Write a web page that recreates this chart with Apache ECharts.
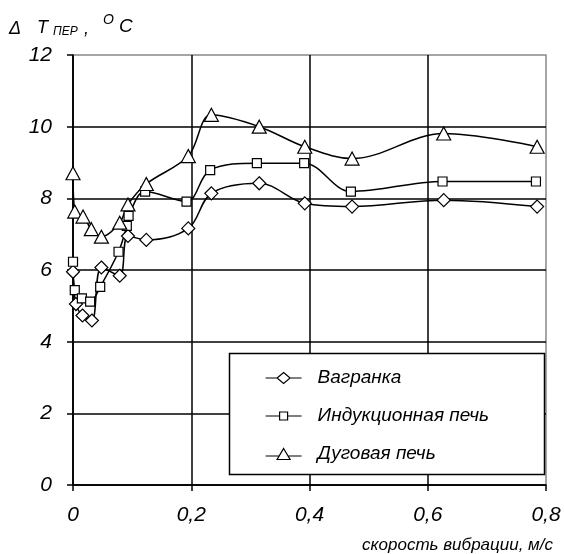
<!DOCTYPE html>
<html>
<head>
<meta charset="utf-8">
<script src="https://cdn.jsdelivr.net/npm/echarts@6/dist/echarts.min.js"></script>
<style>
html,body{margin:0;padding:0;background:#fff;}
#chart{width:564px;height:554px;}
</style>
</head>
<body>
<div id="chart"></div>
<script>
// ---- data ----
const seriesNames = ['Вагранка', 'Индукционная печь', 'Дуговая печь'];

const xVagranka = [0, 0.005, 0.016, 0.032, 0.048, 0.079, 0.093, 0.124, 0.195, 0.234, 0.315, 0.392, 0.472, 0.627, 0.785];
const yVagranka = [5.95, 5.05, 4.73, 4.59, 6.07, 5.84, 6.95, 6.84, 7.16, 8.14, 8.42, 7.86, 7.77, 7.95, 7.77];

const xInduction = [0, 0.003, 0.015, 0.029, 0.046, 0.077, 0.091, 0.094, 0.122, 0.192, 0.232, 0.311, 0.391, 0.470, 0.625, 0.783];
const yInduction = [6.23, 5.44, 5.21, 5.12, 5.53, 6.51, 7.23, 7.51, 8.19, 7.91, 8.79, 8.98, 8.98, 8.19, 8.47, 8.47];

const xArc = [0, 0.003, 0.017, 0.031, 0.048, 0.079, 0.093, 0.124, 0.195, 0.234, 0.315, 0.392, 0.472, 0.627, 0.785];
const yArc = [8.70, 7.63, 7.49, 7.14, 6.93, 7.32, 7.83, 8.40, 9.18, 10.33, 10.0, 9.44, 9.11, 9.81, 9.44];

const xTicks = [0, 0.2, 0.4, 0.6, 0.8];
const yTicks = [0, 2, 4, 6, 8, 10, 12];

const xAxisTitle = 'скорость вибрации, м/с';

// ---- chart ----
const FONT = '"Liberation Sans", Arial, sans-serif';
const zip = (xs, ys) => xs.map((x, i) => [x, ys[i]]);

// legend icons: short line + marker, drawn as one path
const legendIcons = [
  'path://M0,6L11.5,6M24.5,6L36,6M18,0.5L24.5,6L18,11.5L11.5,6Z',
  'path://M0,6L14,6M22,6L36,6M14,2L22,2L22,10L14,10Z',
  'path://M0,8L13.6,8M22.4,8L36,8M18,0.5L24.5,11.5L11.5,11.5Z'
];

const baseSeries = (name, xs, ys, symbol, size) => ({
  type: 'line',
  name: name,
  data: zip(xs, ys),
  smooth: 0.35,
  symbol: symbol,
  symbolSize: size,
  showAllSymbol: true,
  itemStyle: { color: '#fff', borderColor: '#000', borderWidth: 1.2 },
  lineStyle: { color: '#000', width: 1.5 },
  emphasis: { disabled: true },
  animation: false
});

const chart = echarts.init(document.getElementById('chart'), null, { renderer: 'canvas' });

chart.setOption({
  animation: false,
  backgroundColor: '#fff',
  grid: {
    left: 73, right: 18, top: 55, bottom: 69,
    show: true, borderColor: '#888', borderWidth: 1.5, backgroundColor: 'transparent'
  },
  xAxis: {
    type: 'value',
    min: xTicks[0], max: xTicks[xTicks.length - 1], interval: 0.2,
    axisLine: { show: true, lineStyle: { color: '#000', width: 1.5 } },
    axisTick: { show: true, inside: false, length: 6, lineStyle: { color: '#000', width: 1.5 } },
    axisLabel: {
      margin: 20, fontSize: 21, fontStyle: 'italic', fontFamily: FONT, color: '#000',
      formatter: v => String(Math.round(v * 10) / 10).replace('.', ',')
    },
    splitLine: { show: true, showMaxLine: false, lineStyle: { color: '#000', width: 1.5 } }
  },
  yAxis: {
    type: 'value',
    min: yTicks[0], max: yTicks[yTicks.length - 1], interval: 2,
    axisLine: { show: true, lineStyle: { color: '#000', width: 1.5 } },
    axisTick: { show: true, inside: false, length: 6, lineStyle: { color: '#000', width: 1.5 } },
    axisLabel: {
      margin: 21, fontSize: 21, fontStyle: 'italic', fontFamily: FONT, color: '#000'
    },
    splitLine: { show: true, showMaxLine: false, lineStyle: { color: '#000', width: 1.5 } }
  },
  legend: {
    orient: 'vertical',
    left: 260, top: 363,
    itemWidth: 36, itemHeight: 14, itemGap: 18,
    symbolKeepAspect: true,
    z: 10,
    selectedMode: false,
    itemStyle: { color: '#fff', borderColor: '#000', borderWidth: 1.2 },
    textStyle: { fontSize: 19, fontStyle: 'italic', fontFamily: FONT, color: '#000', lineHeight: 20, padding: [0, 0, 0, 11] },
    data: seriesNames.map((n, i) => ({ name: n, icon: legendIcons[i] }))
  },
  graphic: [
    { type: 'rect', z: 8, shape: { x: 229.5, y: 353.5, width: 315, height: 121 },
      style: { fill: '#fff', stroke: '#000', lineWidth: 1.5 } },
    { type: 'text', z: 9, x: 9, y: 29, style: { text: 'Δ', font: 'italic 18px ' + FONT, fill: '#000', textVerticalAlign: 'middle' } },
    { type: 'text', z: 9, x: 37, y: 28, style: { text: 'T', font: 'italic 18px ' + FONT, fill: '#000', textVerticalAlign: 'middle' } },
    { type: 'text', z: 9, x: 53, y: 32, style: { text: 'ПЕР', font: 'italic 12px ' + FONT, fill: '#000', textVerticalAlign: 'middle' } },
    { type: 'text', z: 9, x: 84, y: 29, style: { text: ',', font: 'italic 18px ' + FONT, fill: '#000', textVerticalAlign: 'middle' } },
    { type: 'text', z: 9, x: 103, y: 20, style: { text: 'O', font: 'italic 14px ' + FONT, fill: '#000', textVerticalAlign: 'middle' } },
    { type: 'text', z: 9, x: 119, y: 27, style: { text: 'C', font: 'italic 19px ' + FONT, fill: '#000', textVerticalAlign: 'middle' } },
    { type: 'text', z: 9, x: 553, y: 545, style: { text: xAxisTitle, font: 'italic 17px ' + FONT, fill: '#000', textAlign: 'right', textVerticalAlign: 'middle' } }
  ],
  series: [
    baseSeries(seriesNames[0], xVagranka, yVagranka, 'diamond', 13),
    baseSeries(seriesNames[1], xInduction, yInduction, 'rect', 9),
    baseSeries(seriesNames[2], xArc, yArc, 'triangle', [14, 13])
  ]
});
</script>
</body>
</html>
